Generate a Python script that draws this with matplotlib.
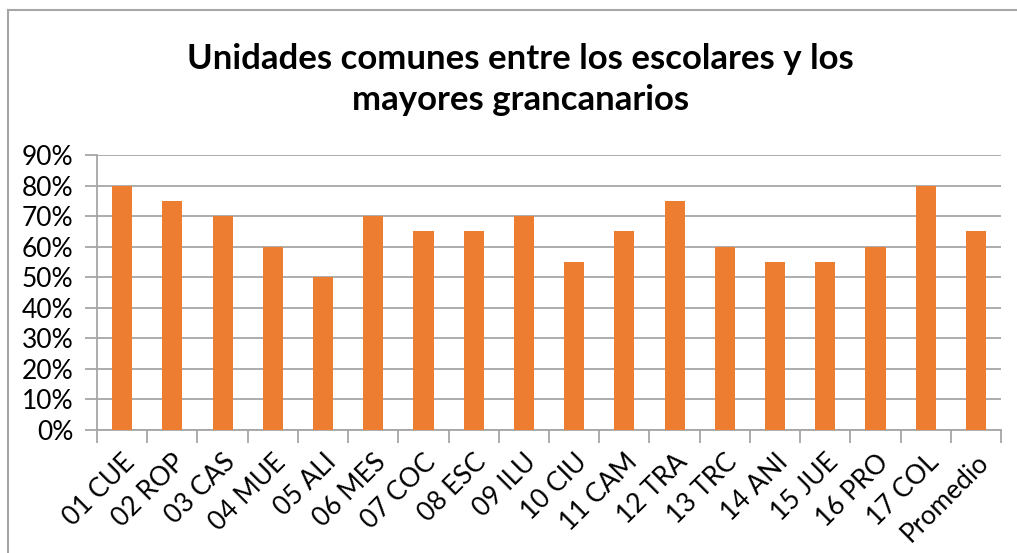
import matplotlib.pyplot as plt
import numpy as np
from matplotlib.lines import Line2D
from matplotlib.ticker import PercentFormatter

categorias = ['01 CUE', '02 ROP', '03 CAS', '04 MUE', '05 ALI', '06 MES', '07 COC',
              '08 ESC', '09 ILU', '10 CIU', '11 CAM', '12 TRA', '13 TRC', '14 ANI',
              '15 JUE', '16 PRO', '17 COL', 'Promedio']
valores = [80, 75, 70, 60, 50, 70, 65, 65, 70, 55, 65, 75, 60, 55, 55, 60, 80, 65.29]

plt.rcParams['font.family'] = ['Lato', 'DejaVu Sans']
gris = '#a6a6a6'
naranja = '#ed7d31'

fig = plt.figure(figsize=(10.17, 5.53), dpi=100)
ax = fig.add_axes([0.0954, 0.2224, 0.8889, 0.4973])

x = np.arange(len(categorias))
ax.bar(x, valores, width=0.4, color=naranja, zorder=3)

ax.set_xlim(-0.5, len(categorias) - 0.5)
ax.set_ylim(0, 90)
ax.set_yticks(np.arange(0, 91, 10))
ax.yaxis.set_major_formatter(PercentFormatter(decimals=0))
ax.grid(axis='y', color=gris, linewidth=1.3, zorder=0)

ax.set_xticks(x)
ax.set_xticklabels(categorias, rotation=45, ha='right', va='top',
                   rotation_mode='anchor', fontsize=19)
ax.set_xticks(np.arange(-0.5, len(categorias), 1), minor=True)
ax.tick_params(axis='x', which='major', length=0, pad=14)
ax.tick_params(axis='x', which='minor', length=9, color=gris, width=1.3)
ax.tick_params(axis='y', length=9, color=gris, width=1.3, labelsize=19, pad=8)

for s in ['top', 'right']:
    ax.spines[s].set_visible(False)
for s in ['left', 'bottom']:
    ax.spines[s].set_color(gris)
    ax.spines[s].set_linewidth(1.3)

fig.text(0.512, 0.857, 'Unidades comunes entre los escolares y los\nmayores grancanarios',
         ha='center', va='center', fontsize=25, fontweight='bold', linespacing=1.35)

# borde del área del gráfico
fig.add_artist(Line2D([8 / 1017, 8 / 1017], [0, 1 - 10 / 553], transform=fig.transFigure,
                      color=gris, linewidth=1.5))
fig.add_artist(Line2D([8 / 1017, 1016 / 1017], [1 - 10 / 553, 1 - 10 / 553],
                      transform=fig.transFigure, color=gris, linewidth=1.5))

plt.savefig('out.png', dpi=100)
